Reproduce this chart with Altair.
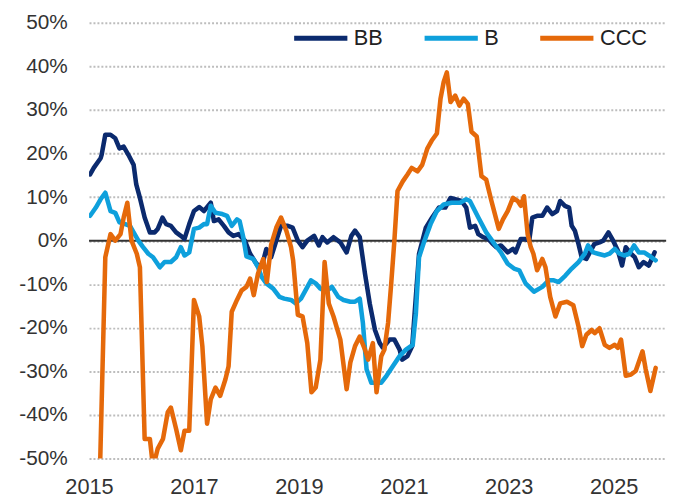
import altair as alt
import pandas as pd

# ---- data (fractional year, % change) ----
bb_year = [2015.02, 2015.09, 2015.22, 2015.24, 2015.31, 2015.41, 2015.50, 2015.58, 2015.66, 2015.75,
           2015.85, 2015.90, 2015.97, 2016.06, 2016.16, 2016.25, 2016.31, 2016.40, 2016.47, 2016.56,
           2016.66, 2016.75, 2016.82, 2016.91, 2017.00, 2017.10, 2017.19, 2017.32, 2017.38, 2017.47,
           2017.57, 2017.66, 2017.75, 2017.85, 2017.97, 2018.07, 2018.19, 2018.29, 2018.38, 2018.47,
           2018.57, 2018.66, 2018.79, 2018.88, 2018.98, 2019.07, 2019.16, 2019.29, 2019.38, 2019.45,
           2019.54, 2019.66, 2019.79, 2019.91, 2020.00, 2020.07, 2020.16, 2020.26, 2020.35, 2020.45,
           2020.54, 2020.60, 2020.73, 2020.82, 2020.92, 2020.97, 2021.07, 2021.16, 2021.29, 2021.42,
           2021.54, 2021.67, 2021.79, 2021.89, 2021.98, 2022.10, 2022.19, 2022.26, 2022.36, 2022.42,
           2022.51, 2022.61, 2022.70, 2022.76, 2022.85, 2022.98, 2023.08, 2023.13, 2023.23, 2023.32,
           2023.39, 2023.45, 2023.54, 2023.64, 2023.73, 2023.83, 2023.92, 2023.98, 2024.07, 2024.15,
           2024.20, 2024.26, 2024.33, 2024.39, 2024.48, 2024.63, 2024.73, 2024.80, 2024.90, 2024.99,
           2025.08, 2025.16, 2025.23, 2025.33, 2025.40, 2025.48, 2025.57, 2025.67, 2025.78]
bb_val = [15.2, 16.7, 18.9, 19.7, 24.3, 24.3, 23.5, 21.2, 21.6, 19.7,
          17.4, 12.9, 9.8, 5.3, 1.9, 1.9, 2.7, 5.3, 3.8, 3.4,
          1.9, 1.1, 0.4, 3.8, 6.8, 7.7, 6.8, 8.7, 4.5, 4.9,
          3.4, 1.9, 1.1, 1.5, 0.0, -3.0, -5.3, -6.0, -1.9, -3.8,
          0.0, 3.4, 3.4, 3.0, 0.0, -1.5, 0.0, 1.1, -1.1, 0.8,
          -0.4, 0.8, -0.4, -2.7, 1.1, 2.3, 0.8, -7.6, -14.4, -20.5,
          -23.5, -24.6, -22.7, -22.7, -25.0, -27.3, -26.5, -24.2, -3.0, 3.0,
          5.3, 7.6, 7.6, 9.8, 9.5, 9.1, 7.6, 3.0, 3.4, 1.5,
          0.8, 0.4, -0.8, -1.5, -1.1, -2.7, -1.9, -2.7, 0.4, 0.4,
          0.0, 5.3, 5.7, 5.7, 7.6, 6.1, 6.8, 9.1, 8.0, 7.6,
          3.4, 2.3, -0.8, -3.8, -4.2, -0.8, -0.4, 0.0, 1.9, 0.0,
          -2.3, -5.7, -1.5, -3.0, -3.8, -6.1, -4.9, -5.7, -2.7]

b_year = [2015.02, 2015.13, 2015.22, 2015.31, 2015.41, 2015.50, 2015.58, 2015.69, 2015.78, 2015.85,
          2015.94, 2016.03, 2016.13, 2016.22, 2016.35, 2016.44, 2016.56, 2016.66, 2016.75, 2016.82,
          2016.91, 2017.00, 2017.10, 2017.19, 2017.25, 2017.32, 2017.41, 2017.54, 2017.63, 2017.72,
          2017.82, 2017.87, 2017.94, 2018.00, 2018.13, 2018.22, 2018.29, 2018.38, 2018.51, 2018.63,
          2018.72, 2018.85, 2018.94, 2019.04, 2019.23, 2019.32, 2019.41, 2019.51, 2019.63, 2019.75,
          2019.85, 2019.98, 2020.07, 2020.16, 2020.22, 2020.29, 2020.38, 2020.48, 2020.57, 2020.67,
          2020.79, 2020.92, 2021.04, 2021.17, 2021.23, 2021.29, 2021.38, 2021.51, 2021.63, 2021.76,
          2021.91, 2022.07, 2022.19, 2022.26, 2022.42, 2022.57, 2022.73, 2022.85, 2022.98, 2023.10,
          2023.20, 2023.32, 2023.48, 2023.64, 2023.76, 2023.86, 2023.95, 2024.08, 2024.20, 2024.33,
          2024.45, 2024.51, 2024.61, 2024.70, 2024.83, 2024.92, 2025.02, 2025.11, 2025.20, 2025.30,
          2025.39, 2025.48, 2025.58, 2025.67, 2025.80]
b_val = [5.7, 7.6, 9.5, 11.0, 6.8, 6.4, 4.2, 3.8, 3.4, 1.9,
         0.0, -1.5, -3.0, -3.8, -6.1, -4.9, -4.9, -3.8, -1.5, -3.4,
         -2.7, 2.7, 3.0, 3.8, 3.8, 8.0, 6.4, 6.1, 5.7, 3.4,
         4.9, 4.5, 0.8, -3.6, -4.2, -6.1, -8.3, -9.8, -11.0, -12.9,
         -13.3, -13.6, -14.4, -13.3, -9.1, -9.8, -11.0, -11.7, -10.6, -12.9,
         -13.6, -14.0, -14.0, -13.3, -18.9, -29.5, -32.6, -32.6, -32.6, -31.0,
         -28.8, -26.5, -25.0, -23.9, -16.7, -3.8, -0.5, 3.8, 6.8, 8.3,
         8.7, 8.7, 9.5, 9.1, 5.3, 1.9, -0.8, -2.7, -5.3, -6.4,
         -6.8, -9.8, -11.7, -10.6, -9.1, -9.1, -9.5, -8.0, -6.4, -4.9,
         -3.0, -1.1, -2.7, -3.0, -3.4, -3.0, -1.9, -3.0, -3.4, -3.0,
         -1.1, -2.7, -2.7, -3.4, -4.5]

ccc_year = [2015.21, 2015.31, 2015.41, 2015.50, 2015.60, 2015.66, 2015.73, 2015.81, 2015.91, 2015.97,
            2016.06, 2016.16, 2016.22, 2016.31, 2016.41, 2016.50, 2016.56, 2016.66, 2016.75, 2016.82,
            2016.91, 2017.00, 2017.10, 2017.16, 2017.25, 2017.32, 2017.41, 2017.50, 2017.60, 2017.66,
            2017.72, 2017.82, 2017.91, 2018.00, 2018.07, 2018.14, 2018.22, 2018.32, 2018.39, 2018.47,
            2018.57, 2018.66, 2018.76, 2018.85, 2018.89, 2018.98, 2019.07, 2019.16, 2019.24, 2019.32,
            2019.41, 2019.49, 2019.57, 2019.66, 2019.79, 2019.91, 2019.98, 2020.07, 2020.16, 2020.26,
            2020.32, 2020.41, 2020.48, 2020.57, 2020.63, 2020.70, 2020.76, 2020.82, 2020.88, 2020.98,
            2021.07, 2021.15, 2021.26, 2021.35, 2021.45, 2021.54, 2021.63, 2021.70, 2021.76, 2021.82,
            2021.89, 2021.98, 2022.06, 2022.14, 2022.22, 2022.29, 2022.39, 2022.48, 2022.57, 2022.67,
            2022.81, 2022.89, 2022.98, 2023.08, 2023.17, 2023.23, 2023.29, 2023.36, 2023.42, 2023.47,
            2023.54, 2023.64, 2023.70, 2023.79, 2023.89, 2023.98, 2024.11, 2024.23, 2024.33, 2024.40,
            2024.48, 2024.58, 2024.64, 2024.73, 2024.83, 2024.92, 2025.02, 2025.08, 2025.14, 2025.23,
            2025.33, 2025.42, 2025.55, 2025.61, 2025.70, 2025.80]
ccc_val = [-52.0, -3.8, 1.5, 0.0, 1.5, 5.3, 8.7, 0.0, -3.0, -6.1,
           -45.5, -45.5, -52.0, -47.7, -45.5, -39.4, -38.3, -43.2, -48.1, -43.6,
           -43.6, -13.6, -17.4, -24.2, -42.0, -36.4, -33.7, -35.6, -31.8, -28.8,
           -16.3, -13.6, -11.4, -10.6, -8.7, -12.5, -7.6, -4.2, -9.5, -1.0,
           3.0, 5.3, 2.3, -1.5, -4.5, -17.0, -17.4, -23.5, -34.8, -33.7,
           -27.3, -4.9, -14.4, -17.4, -22.7, -34.1, -28.0, -24.2, -22.0, -25.0,
           -27.3, -23.5, -34.8, -26.5, -25.0, -18.9, -9.8, 0.0, 11.4, 13.6,
           15.2, 16.7, 15.9, 17.4, 21.2, 23.1, 24.6, 32.6, 36.4, 38.6,
           31.8, 33.3, 31.0, 32.6, 31.4, 25.0, 23.9, 14.8, 14.0, 9.1,
           2.7, 4.9, 6.8, 9.8, 9.1, 8.0, 10.2, 1.5, -1.5, -3.0,
           -6.8, -4.2, -6.1, -12.9, -17.4, -14.4, -14.0, -14.8, -19.7, -24.2,
           -21.6, -20.5, -21.2, -20.1, -23.9, -24.6, -23.9, -24.6, -22.7, -31.0,
           -30.7, -29.9, -25.4, -29.5, -34.5, -29.2]

series_names = ["BB", "B", "CCC"]
series_colors = ["#0b2a6e", "#0ea0dc", "#e5690a"]
y_ticks = [-50, -40, -30, -20, -10, 0, 10, 20, 30, 40, 50]
x_ticks = [2015, 2017, 2019, 2021, 2023, 2025]

frames = []
for name, yrs, vals in [("BB", bb_year, bb_val), ("B", b_year, b_val), ("CCC", ccc_year, ccc_val)]:
    frames.append(pd.DataFrame({"year": yrs, "value": vals, "series": name}))
df = pd.concat(frames, ignore_index=True)

FONT = "Liberation Sans"

x_enc = alt.X("year:Q",
              scale=alt.Scale(domain=[2015, 2026], nice=False, zero=False),
              axis=alt.Axis(values=x_ticks, format="d", grid=False, domain=False, ticks=False,
                            labelFlush=False, labelFontSize=22, labelPadding=18,
                            labelColor="#333333", labelFont=FONT, title=None))
y_enc = alt.Y("value:Q",
              scale=alt.Scale(domain=[-50, 50], nice=False, zero=False),
              axis=alt.Axis(values=y_ticks, labelExpr="datum.value + '%'", grid=True,
                            gridDash=[2, 2], gridColor="#bdbdbd", gridWidth=2,
                            domain=False, ticks=False, labelPadding=22, labelFontSize=21,
                            labelColor="#333333", labelFont=FONT, title=None))
color_enc = alt.Color("series:N",
                      scale=alt.Scale(domain=series_names, range=series_colors),
                      sort=series_names,
                      legend=alt.Legend(orient="none", legendX=205, legendY=-14, direction="horizontal",
                                        title=None, symbolType="stroke", symbolSize=2900,
                                        symbolStrokeWidth=5, labelFontSize=22, labelFont=FONT,
                                        labelColor="#222222", columnPadding=31, labelOffset=4))

zero = alt.Chart(pd.DataFrame({"value": [0]})).mark_rule(color="#333333", strokeWidth=2).encode(
    y=alt.Y("value:Q", scale=alt.Scale(domain=[-50, 50], nice=False, zero=False)))

layers = [zero]
for name in series_names:
    layers.append(
        alt.Chart(df).transform_filter(alt.datum.series == name)
        .mark_line(strokeWidth=4.6, strokeJoin="round", strokeCap="round", clip=True)
        .encode(x=x_enc, y=y_enc, color=color_enc)
    )

chart = alt.layer(*layers).properties(
    width=584, height=441,
    autosize=alt.AutoSizeParams(type="none"),
    padding={"left": 82, "top": 12, "right": 12, "bottom": 40},
).configure_view(stroke=None)

chart.save("out.html", embed_options={"renderer": "svg", "actions": False})
